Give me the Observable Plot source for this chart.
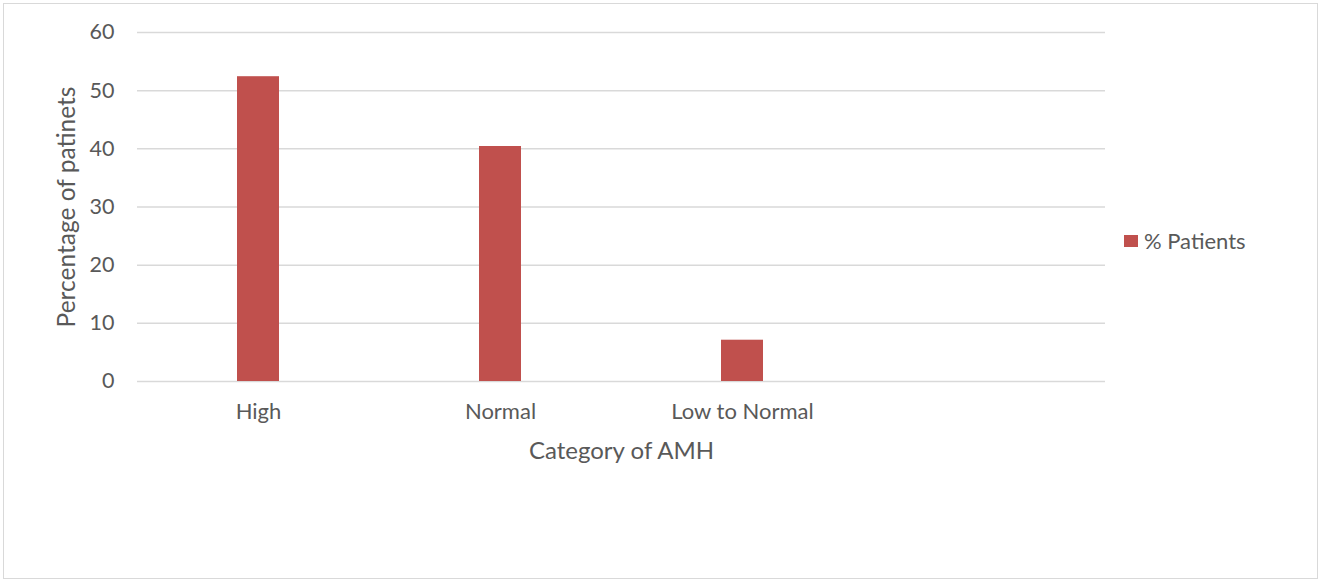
<!DOCTYPE html>
<html>
<head>
<meta charset="utf-8">
<script src="https://cdn.jsdelivr.net/npm/d3@7"></script>
<script src="https://cdn.jsdelivr.net/npm/@observablehq/plot@0.6"></script>
<style>
  html, body { margin: 0; padding: 0; background: #fff; }
  #wrap { position: relative; width: 1320px; height: 580px; overflow: hidden; font-family: Lato, "Open Sans", sans-serif; }
  #border { position: absolute; left: 3px; top: 3px; width: 1313px; height: 574px; border: 1.5px solid #d9d9d9; box-sizing: content-box; pointer-events: none; }
  #legend { position: absolute; left: 1124px; top: 227px; display: flex; align-items: center; font-size: 22px; color: #595959; }
  #legend .sw { width: 14px; height: 12px; background: #C0504D; margin-right: 6px; }
</style>
</head>
<body>
<div id="wrap">
  <div id="chart"></div>
  <div id="border"></div>
  <div id="legend"><span class="sw"></span><span id="legendText"></span></div>
</div>
<script>
const categories = ["High", "Normal", "Low to Normal", ""];
const seriesName = "% Patients";
const values = [52.4, 40.4, 7.1];
const yTicks = [0, 10, 20, 30, 40, 50, 60];
const xTitle = "Category of AMH";
const yTitle = "Percentage of patinets";

const data = values.map((v, i) => ({ category: categories[i], value: v }));

document.getElementById("legendText").textContent = seriesName;

const chart = Plot.plot({
  width: 1320,
  height: 580,
  marginLeft: 137,
  marginRight: 215,
  marginTop: 32,
  marginBottom: 199,
  style: { fontFamily: "Lato, 'Open Sans', sans-serif", color: "#595959", background: "transparent" },
  x: { domain: categories, padding: 0, label: null },
  y: { domain: [0, 60], label: null },
  marks: [
    Plot.ruleY(yTicks, { stroke: "#d9d9d9", strokeWidth: 1.5 }),
    Plot.barY(data, { x: "category", y: "value", fill: "#C0504D", insetLeft: 100, insetRight: 100 }),
    Plot.axisY({ ticks: yTicks, tickSize: 0, tickPadding: 23, fontSize: 21.5, fill: "#595959", label: null }),
    Plot.axisX({ tickSize: 0, tickPadding: 22, fontSize: 22, fill: "#595959", label: null }),
    Plot.text([xTitle], { frameAnchor: "bottom", dy: 77, fontSize: 24, fill: "#595959" }),
    Plot.text([yTitle], { frameAnchor: "left", textAnchor: "middle", dx: -70, rotate: -90, fontSize: 24.5, fill: "#595959" })
  ]
});
document.getElementById("chart").appendChild(chart);
</script>
</body>
</html>
